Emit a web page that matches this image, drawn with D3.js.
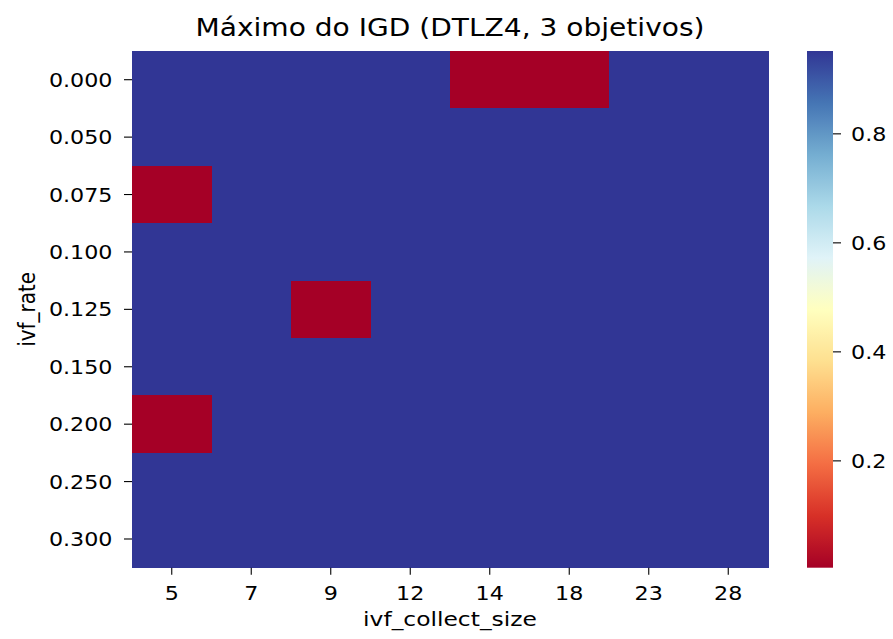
<!DOCTYPE html>
<html>
<head>
<meta charset="utf-8">
<script src="https://cdn.jsdelivr.net/npm/d3@7"></script>
<style>
  html, body { margin: 0; padding: 0; background: #fff; }
  svg { display: block; }
  text { font-family: "DejaVu Sans", sans-serif; fill: #000; }
</style>
</head>
<body>
<svg id="chart" width="893" height="639"></svg>
<script>
// Row / column categories of the grid
const rates = ["0.000", "0.050", "0.075", "0.100", "0.125", "0.150", "0.200", "0.250", "0.300"];
const collectSizes = ["5", "7", "9", "12", "14", "18", "23", "28"];

// Maximum IGD per (ivf_rate, ivf_collect_size)
const igdMax = [
  [0.952, 0.952, 0.952, 0.952, 0.004, 0.004, 0.952, 0.952],
  [0.952, 0.952, 0.952, 0.952, 0.952, 0.952, 0.952, 0.952],
  [0.004, 0.952, 0.952, 0.952, 0.952, 0.952, 0.952, 0.952],
  [0.952, 0.952, 0.952, 0.952, 0.952, 0.952, 0.952, 0.952],
  [0.952, 0.952, 0.004, 0.952, 0.952, 0.952, 0.952, 0.952],
  [0.952, 0.952, 0.952, 0.952, 0.952, 0.952, 0.952, 0.952],
  [0.004, 0.952, 0.952, 0.952, 0.952, 0.952, 0.952, 0.952],
  [0.952, 0.952, 0.952, 0.952, 0.952, 0.952, 0.952, 0.952],
  [0.952, 0.952, 0.952, 0.952, 0.952, 0.952, 0.952, 0.952]
];

const colorbarTicks = [0.2, 0.4, 0.6, 0.8];
const titleText = "Máximo do IGD (DTLZ4, 3 objetivos)";
const xLabel = "ivf_collect_size";
const yLabel = "ivf_rate";

// RdYlBu anchor colours (red = low, blue = high)
const rdylbu = ["#a50026", "#d73027", "#f46d43", "#fdae61", "#fee090", "#ffffbf",
                "#e0f3f8", "#abd9e9", "#74add1", "#4575b4", "#313695"];

const SX = 1.17; // horizontal glyph stretch
const svg = d3.select("#chart");

const plot = { left: 132, right: 768, top: 51, bottom: 567.7 };
const cbar = { left: 807, right: 833, top: 51, bottom: 567.7 };

const cells = [];
rates.forEach((r, i) => collectSizes.forEach((c, j) => cells.push({ r, c, v: igdMax[i][j] })));
const vmin = d3.min(cells, d => d.v), vmax = d3.max(cells, d => d.v);

const interp = d3.piecewise(d3.interpolateRgb, rdylbu);
const color = d3.scaleSequential(interp).domain([vmin, vmax]);

const x = d3.scaleBand().domain(collectSizes).range([plot.left, plot.right]);
const y = d3.scaleBand().domain(rates).range([plot.top, plot.bottom]);

function stretchedText(g, tx, ty, str, size, anchor, rotate) {
  return g.append("text")
    .attr("transform", `translate(${tx},${ty}) scale(${SX},1)` + (rotate ? ` rotate(${rotate})` : ""))
    .attr("text-anchor", anchor)
    .style("font-size", size + "px")
    .text(str);
}

// Heatmap cells
svg.append("g").attr("shape-rendering", "crispEdges")
  .selectAll("rect").data(cells).join("rect")
  .attr("x", d => x(d.c))
  .attr("y", d => y(d.r))
  .attr("width", x.bandwidth() + 0.5)
  .attr("height", y.bandwidth() + 0.5)
  .attr("fill", d => color(d.v));

// Y axis ticks and labels
const yAxis = svg.append("g");
rates.forEach(r => {
  const cy = y(r) + y.bandwidth() / 2;
  yAxis.append("line").attr("x1", plot.left - 8).attr("x2", plot.left)
    .attr("y1", cy).attr("y2", cy).attr("stroke", "#000").attr("stroke-width", 1.1);
  stretchedText(yAxis, plot.left - 19.5, cy + 7, r, 19, "end");
});

// X axis ticks and labels
const xAxis = svg.append("g");
collectSizes.forEach(c => {
  const cx = x(c) + x.bandwidth() / 2;
  xAxis.append("line").attr("x1", cx).attr("x2", cx)
    .attr("y1", plot.bottom).attr("y2", plot.bottom + 7).attr("stroke", "#000").attr("stroke-width", 1.1);
  stretchedText(xAxis, cx, 599.5, c, 19, "middle");
});

// Axis titles and chart title
stretchedText(svg, (plot.left + plot.right) / 2, 626, xLabel, 20, "middle");
stretchedText(svg, 35, (plot.top + plot.bottom) / 2, yLabel, 20, "middle", -90);
stretchedText(svg, (plot.left + plot.right) / 2, 36, titleText, 24, "middle");

// Colorbar
const defs = svg.append("defs");
const grad = defs.append("linearGradient").attr("id", "cbar-grad")
  .attr("x1", 0).attr("y1", 1).attr("x2", 0).attr("y2", 0);
d3.range(0, 1.0001, 0.02).forEach(t => {
  grad.append("stop").attr("offset", t).attr("stop-color", color(vmin + t * (vmax - vmin)));
});
svg.append("rect")
  .attr("x", cbar.left).attr("y", cbar.top)
  .attr("width", cbar.right - cbar.left).attr("height", cbar.bottom - cbar.top)
  .attr("fill", "url(#cbar-grad)");

const cy = d3.scaleLinear().domain([vmin, vmax]).range([cbar.bottom, cbar.top]);
const cAxis = svg.append("g");
colorbarTicks.forEach(t => {
  const ty = cy(t);
  cAxis.append("line").attr("x1", cbar.right).attr("x2", cbar.right + 8)
    .attr("y1", ty).attr("y2", ty).attr("stroke", "#000").attr("stroke-width", 1.1);
  stretchedText(cAxis, cbar.right + 18, ty + 7, t.toFixed(1), 19, "start");
});
</script>
</body>
</html>
